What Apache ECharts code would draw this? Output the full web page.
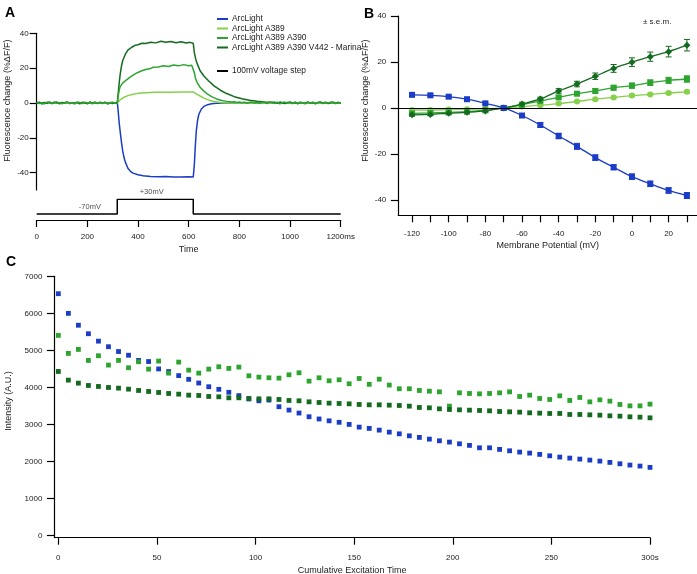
<!DOCTYPE html>
<html><head><meta charset="utf-8">
<script src="https://cdn.jsdelivr.net/npm/echarts@6/dist/echarts.min.js"></script>
<style>html,body{margin:0;padding:0;background:#fff}#c{width:697px;height:574px}</style>
</head><body><div id="c"></div>
<script>
// ---------- Panel A: time traces (ms, %dF/F) ----------
const tArc = [0,318,320,323,326,330,335,340,345,350,360,370,380,400,420,450,480,510,540,570,600,618,622,626,630,635,640,650,660,675,690,710,740,1200];
const vArc = [0,0,-2,-7,-12,-17,-23,-28,-31.5,-34,-37.5,-39.3,-40.3,-41.2,-41.8,-42.2,-42.4,-42.3,-42.6,-42.5,-42.4,-42.5,-36,-25,-16,-10,-6.5,-3.5,-2,-1,-0.5,-0.2,0,0];
const tA389 = [0,318,322,328,335,345,360,380,400,430,470,520,580,618,625,635,645,660,680,700,725,760,1200];
const vA389 = [0,0,0.7,1.6,2.4,3.3,4.2,5.0,5.5,5.9,6.1,6.2,6.3,6.3,5.7,4.8,4.0,2.8,1.6,0.8,0.3,0,0];
const tA390 = [0,10,20,30,40,50,60,70,80,90,100,110,120,130,140,150,160,170,180,190,200,210,220,230,240,250,260,270,280,290,300,310,
  318,322,326,330,340,355,370,390,410,430,445,460,480,500,520,540,560,580,600,612,618,622,627,635,645,660,675,690,710,730,750,770,
  780,790,800,810,820,830,840,850,860,870,880,890,900,910,920,930,940,950,960,970,980,990,1000,1010,1020,1030,1040,1050,1060,1070,1080,1090,1100,1110,1120,1130,1140,1150,1160,1170,1180,1190,1200];
const vA390 = [0.4,-0.3,0.2,-0.6,0.5,0.1,-0.4,0.6,-0.2,0.3,-0.5,0.2,0.5,-0.3,0.1,-0.6,0.4,0.2,-0.4,0.5,-0.1,0.3,-0.5,0.6,-0.2,0.1,-0.4,0.5,-0.3,0.2,0.4,-0.2,
  0,4,7.5,9.5,11.5,13.3,15,16.8,18.2,19.2,19.6,20.5,20.7,21.3,20.9,21.8,21.3,22.0,21.4,21.7,21.3,17.5,14,11.2,9,6.8,5,3.6,2.3,1.4,0.9,0.6,
  0.7,0.3,0.6,0.1,0.5,-0.2,0.4,0.6,0.0,0.3,-0.3,0.5,0.2,-0.4,0.6,0.1,-0.2,0.4,-0.5,0.3,0.5,-0.1,0.2,-0.4,0.6,-0.2,0.3,0.1,-0.5,0.4,-0.1,0.5,-0.3,0.2,0.6,-0.4,0.3,-0.2,0.5,0.1,-0.3,0.4,0.0];
const tMarina = [0,10,20,30,40,50,60,70,80,90,100,110,120,130,140,150,160,170,180,190,200,210,220,230,240,250,260,270,280,290,300,310,
  318,322,326,330,335,340,350,360,375,390,400,415,430,450,470,490,510,530,550,570,590,605,618,622,628,635,645,660,680,700,725,750,780,810,840,870,900,930,
  940,950,960,970,980,990,1000,1010,1020,1030,1040,1050,1060,1070,1080,1090,1100,1110,1120,1130,1140,1150,1160,1170,1180,1190,1200];
const vMarina = [-0.3,0.5,-0.6,0.3,-0.2,0.6,-0.4,0.2,0.5,-0.5,0.3,-0.1,0.6,-0.4,0.2,-0.3,0.5,-0.6,0.4,0.1,-0.5,0.6,-0.2,0.3,-0.4,0.5,-0.1,0.4,-0.6,0.2,-0.3,0.1,
  0,6,12,17,21.5,24.5,28,30.3,32,33.2,33.4,34.3,34.1,34.9,34.5,35.4,34.8,35.3,34.6,35.1,34.4,34.8,34.3,29,25,22,18.5,15.5,12.5,9.8,7.3,5.4,3.6,2.4,1.5,1.0,0.6,0.4,
  0.4,-0.2,0.5,0.1,-0.4,0.3,0.6,-0.3,0.2,-0.5,0.4,0.1,-0.3,0.6,-0.1,0.3,-0.5,0.2,0.5,-0.2,0.4,-0.4,0.1,0.5,-0.3,0.2,0.0];
const tStep = [0,318,318,618,618,1200];
const vStep = [-70,-70,30,30,-70,-70];
const stepLabels = [[210,-70,'-70mV'],[454,30,'+30mV']];
const timeTicks = [0,200,400,600,800,1000,1200];
const fluoTicksA = [-40,-20,0,20,40];

// ---------- Panel B: voltage dependence ----------
const bVolt = [-120,-110,-100,-90,-80,-70,-60,-50,-40,-30,-20,-10,0,10,20,30];
const bArc = [5.7,5.5,4.9,3.8,2.0,0,-3.3,-7.4,-12.2,-16.7,-21.6,-25.8,-29.9,-33,-35.9,-38.1];
const bArcErr = [0.6,0.6,0.6,0.6,0.6,0.2,0.7,1.0,1.2,1.3,1.2,1.1,1.2,1.2,1.2,1.3];
const bA389 = [-0.9,-0.9,-0.7,-0.6,-0.4,0,0.6,1.2,1.9,2.8,3.8,4.6,5.4,5.9,6.5,7.0];
const bA389Err = [0.3,0.3,0.3,0.3,0.3,0.1,0.3,0.3,0.4,0.4,0.4,0.5,0.5,0.5,0.6,0.6];
const bA390 = [-2.4,-2.2,-1.9,-1.6,-1.0,0,1.4,3.0,4.6,6.2,7.4,8.8,9.7,11.0,12.0,12.6];
const bA390Err = [0.5,0.5,0.5,0.5,0.4,0.1,0.5,0.6,0.7,0.8,0.9,1.0,1.1,1.2,1.3,1.4];
const bMarina = [-3.0,-2.8,-2.3,-1.9,-1.3,0,1.7,3.9,7.4,10.4,13.8,17.2,19.9,22.3,24.5,27.3];
const bMarinaErr = [0.6,0.6,0.6,0.6,0.5,0.1,0.6,0.8,1.0,1.2,1.4,1.7,1.9,2.0,2.3,2.5];
const voltLabels = [-120,-100,-80,-60,-40,-20,0,20];
const voltTicks = [-120,-110,-100,-90,-80,-70,-60,-50,-40,-30,-20,-10,0,10,20,30];
const fluoTicksB = [-40,-20,0,20,40];

// ---------- Panel C: photobleaching ----------
const cTime = [0,5.08,10.17,15.25,20.34,25.42,30.51,35.59,40.68,45.76,50.85,55.93,61.02,66.1,71.19,76.27,81.36,86.44,91.53,96.61,101.69,106.78,111.86,116.95,122.03,127.12,132.2,137.29,142.37,147.46,152.54,157.63,162.71,167.8,172.88,177.97,183.05,188.14,193.22,198.31,203.39,208.47,213.56,218.64,223.73,228.81,233.9,238.98,244.07,249.15,254.24,259.32,264.41,269.49,274.58,279.66,284.75,289.83,294.92,300];
const cArc = [6530,6000,5680,5450,5250,5100,4970,4870,4730,4700,4500,4430,4320,4220,4120,4020,3950,3870,3780,3690,3640,3660,3480,3390,3310,3210,3150,3100,3060,
  3003,2930,2895,2849,2795,2749,2695,2652,2606,2561,2526,2480,2437,2372,2372,2329,2291,2256,2229,2194,2156,2121,2094,2067,2040,2013,1978,1941,1906,1879,1843];
const cA390 = [5405,4919,5027,4730,4856,4604,4730,4532,4694,4495,4712,4387,4685,4468,4387,4495,4559,4514,4550,4315,4279,4261,4252,4342,4396,4171,4261,4180,4207,
  4100,4243,4085,4224,4065,3965,3965,3919,3900,3882,3496,3855,3838,3828,3838,3855,3882,3757,3793,3703,3676,3774,3649,3730,3612,3666,3631,3541,3504,3504,3550];
const cMarina = [4432,4198,4117,4054,4027,4000,3982,3955,3919,3892,3865,3838,3820,3793,3784,3757,3748,3721,3721,3703,3694,3694,3676,3649,3640,3613,3595,3577,3568,
  3558,3541,3532,3532,3523,3514,3496,3460,3451,3424,3406,3397,3388,3379,3370,3352,3343,3334,3316,3307,3298,3298,3271,3271,3262,3253,3235,3226,3208,3199,3181];
const intTicks = [0,1000,2000,3000,4000,5000,6000,7000];
const excTicks = [0,50,100,150,200,250,300];

// ---------- styling ----------
const FONT = 'Liberation Sans, Arial, sans-serif';
const TXT = '#222';
const cBlue = '#1a3cc6', cLight = '#86d04a', cMed = '#2ca42e', cDark = '#146a1e';
const zip = (a, b) => a.map((v, i) => [v, b[i]]);
const zip3 = (a, b, c) => a.map((v, i) => [v, b[i], c[i]]);

function errRender(params, api) {
  const x = api.value(0), y = api.value(1), e = api.value(2);
  const p1 = api.coord([x, y + e]), p2 = api.coord([x, y - e]);
  const hw = 3, st = {stroke: api.visual('color'), lineWidth: 1};
  return {type: 'group', children: [
    {type: 'line', shape: {x1: p1[0], y1: p1[1], x2: p2[0], y2: p2[1]}, style: st},
    {type: 'line', shape: {x1: p1[0]-hw, y1: p1[1], x2: p1[0]+hw, y2: p1[1]}, style: st},
    {type: 'line', shape: {x1: p2[0]-hw, y1: p2[1], x2: p2[0]+hw, y2: p2[1]}, style: st}
  ]};
}

const axLine = {show: true, onZero: false, lineStyle: {color: '#000', width: 1.2}};
const plain = v => String(v);
const lbl = (extra) => Object.assign({color: TXT, fontFamily: FONT, fontSize: 8, formatter: plain}, extra);
const nameStyle = (extra) => Object.assign({color: TXT, fontFamily: FONT, fontSize: 9}, extra);

const chart = echarts.init(document.getElementById('c'), null, {renderer: 'canvas'});
const option = {
  animation: false,
  backgroundColor: '#fff',
  textStyle: {fontFamily: FONT},
  title: [
    {text: 'A', left: 0, top: 1, textStyle: {fontSize: 14, fontWeight: 'bold', color: '#000', fontFamily: FONT}},
    {text: 'B', left: 359, top: 2, textStyle: {fontSize: 14, fontWeight: 'bold', color: '#000', fontFamily: FONT}},
    {text: 'C', left: 1, top: 250, textStyle: {fontSize: 14, fontWeight: 'bold', color: '#000', fontFamily: FONT}}
  ],
  graphic: [
    {type: 'text', left: 643, top: 18, style: {text: '± s.e.m.', fontSize: 8, fontFamily: FONT, fill: TXT}}
  ],
  legend: [
    {orient: 'vertical', left: 212, top: 10, itemWidth: 11, itemHeight: 2, itemGap: 1.5, icon: 'rect',
     textStyle: {fontSize: 8.4, color: TXT, fontFamily: FONT, padding: [0, 0, 0, -1]},
     data: ['ArcLight', 'ArcLight A389', 'ArcLight A389 A390', 'ArcLight A389 A390 V442 - Marina'], selectedMode: false},
    {orient: 'vertical', left: 212, top: 62, itemWidth: 11, itemHeight: 2, icon: 'rect',
     textStyle: {fontSize: 8.4, color: TXT, fontFamily: FONT, padding: [0, 0, 0, -1]},
     data: ['100mV voltage step'], selectedMode: false}
  ],
  grid: [
    {left: 36.7, top: 33.3, width: 304, height: 156.7, outerBoundsMode: 'none'},
    {left: 36.7, top: 199.3, width: 304, height: 20.7, outerBoundsMode: 'none'},
    {left: 398.3, top: 16, width: 298.7, height: 199.3, outerBoundsMode: 'none'},
    {left: 54.4, top: 276.3, width: 595.6, height: 261.4, outerBoundsMode: 'none'}
  ],
  xAxis: [
    {gridIndex: 0, type: 'value', min: 0, max: 1200, show: false},
    {gridIndex: 1, type: 'value', min: 0, max: 1200, axisLine: axLine,
     axisTick: {show: true, length: 7, lineStyle: {color: '#000', width: 1.2}, customValues: timeTicks},
     axisLabel: lbl({margin: 13, customValues: timeTicks, formatter: v => v === 1200 ? '1200ms' : String(v)}),
     splitLine: {show: false},
     name: 'Time', nameLocation: 'middle', nameGap: 25, nameTextStyle: nameStyle()},
    {gridIndex: 2, type: 'value', position: 'bottom', min: -127.5, max: 35.5, axisLine: axLine,
     axisTick: {show: true, length: 7, lineStyle: {color: '#000', width: 1.2}, customValues: voltTicks},
     axisLabel: lbl({margin: 14, customValues: voltLabels}),
     splitLine: {show: false},
     name: 'Membrane Potential (mV)', nameLocation: 'middle', nameGap: 26, nameTextStyle: nameStyle()},
    {gridIndex: 3, type: 'value', min: -2, max: 300, axisLine: axLine,
     axisTick: {show: true, length: 7, lineStyle: {color: '#000', width: 1.2}, customValues: excTicks},
     axisLabel: lbl({margin: 16, customValues: excTicks, formatter: v => v === 300 ? '300s' : String(v)}),
     splitLine: {show: false},
     name: 'Cumulative Excitation Time', nameLocation: 'middle', nameGap: 28, nameTextStyle: nameStyle()}
  ],
  yAxis: [
    {gridIndex: 0, type: 'value', min: -50, max: 40, axisLine: axLine,
     axisTick: {show: true, length: 7, lineStyle: {color: '#000', width: 1.2}, customValues: fluoTicksA},
     axisLabel: lbl({margin: 8, customValues: fluoTicksA}),
     splitLine: {show: false},
     name: 'Fluorescence change (%ΔF/F)', nameLocation: 'middle', nameGap: 25,
     nameTextStyle: nameStyle({padding: [0, 0, 0, 22]})},
    {gridIndex: 1, type: 'value', min: -110, max: 30, show: false},
    {gridIndex: 2, type: 'value', min: -46.7, max: 40, axisLine: axLine,
     axisTick: {show: true, length: 7.5, lineStyle: {color: '#000', width: 1.2}, customValues: fluoTicksB},
     axisLabel: lbl({margin: 12, customValues: fluoTicksB}),
     splitLine: {show: false},
     name: 'Fluorescence change (%ΔF/F)', nameLocation: 'middle', nameGap: 28,
     nameTextStyle: nameStyle({padding: [0, 0, 0, 30]})},
    {gridIndex: 3, type: 'value', min: -54, max: 7000, axisLine: axLine,
     axisTick: {show: true, length: 7.5, lineStyle: {color: '#000', width: 1.2}, customValues: intTicks},
     axisLabel: lbl({margin: 12, customValues: intTicks}),
     splitLine: {show: false},
     name: 'Intensity (A.U.)', nameLocation: 'middle', nameGap: 41,
     nameTextStyle: nameStyle({padding: [0, 0, 0, 12]})}
  ],
  series: [
    // Panel A
    {name: 'ArcLight', type: 'line', xAxisIndex: 0, yAxisIndex: 0, data: zip(tArc, vArc), showSymbol: false, symbol: 'none',
     lineStyle: {color: cBlue, width: 1.5}, itemStyle: {color: cBlue}},
    {name: 'ArcLight A389', type: 'line', xAxisIndex: 0, yAxisIndex: 0, data: zip(tA389, vA389), showSymbol: false, symbol: 'none',
     lineStyle: {color: cLight, width: 1.5}, itemStyle: {color: cLight}},
    {name: 'ArcLight A389 A390 V442 - Marina', type: 'line', xAxisIndex: 0, yAxisIndex: 0, data: zip(tMarina, vMarina), showSymbol: false, symbol: 'none',
     lineStyle: {color: cDark, width: 1.5}, itemStyle: {color: cDark}},
    {name: 'ArcLight A389 A390', type: 'line', xAxisIndex: 0, yAxisIndex: 0, data: zip(tA390, vA390), showSymbol: false, symbol: 'none',
     lineStyle: {color: cMed, width: 1.5}, itemStyle: {color: cMed}},
    {name: '100mV voltage step', type: 'line', xAxisIndex: 1, yAxisIndex: 1, data: zip(tStep, vStep), showSymbol: false, symbol: 'none',
     lineStyle: {color: '#000', width: 1.5}, itemStyle: {color: '#000'}},
    {name: 'stepLabels', type: 'scatter', xAxisIndex: 1, yAxisIndex: 1, data: stepLabels, symbolSize: 0,
     label: {show: true, position: 'top', distance: 3, formatter: p => p.value[2], fontSize: 7.5, color: TXT, fontFamily: FONT}},
    // Panel B
    {name: 'B A389 err', type: 'custom', xAxisIndex: 2, yAxisIndex: 2, data: zip3(bVolt, bA389, bA389Err), renderItem: errRender, itemStyle: {color: cLight}, z: 2},
    {name: 'B A389', type: 'line', xAxisIndex: 2, yAxisIndex: 2, data: zip(bVolt, bA389), smooth: 0.3, symbol: 'circle', symbolSize: 6,
     lineStyle: {color: cLight, width: 1.3}, itemStyle: {color: cLight}, z: 3},
    {name: 'B A390 err', type: 'custom', xAxisIndex: 2, yAxisIndex: 2, data: zip3(bVolt, bA390, bA390Err), renderItem: errRender, itemStyle: {color: cMed}, z: 2},
    {name: 'B A390', type: 'line', xAxisIndex: 2, yAxisIndex: 2, data: zip(bVolt, bA390), smooth: 0.3, symbol: 'rect', symbolSize: 6,
     lineStyle: {color: cMed, width: 1.3}, itemStyle: {color: cMed}, z: 3},
    {name: 'B Marina err', type: 'custom', xAxisIndex: 2, yAxisIndex: 2, data: zip3(bVolt, bMarina, bMarinaErr), renderItem: errRender, itemStyle: {color: cDark}, z: 2},
    {name: 'B Marina', type: 'line', xAxisIndex: 2, yAxisIndex: 2, data: zip(bVolt, bMarina), smooth: 0.3, symbol: 'diamond', symbolSize: 7,
     lineStyle: {color: cDark, width: 1.3}, itemStyle: {color: cDark}, z: 3},
    {name: 'B Arc err', type: 'custom', xAxisIndex: 2, yAxisIndex: 2, data: zip3(bVolt, bArc, bArcErr), renderItem: errRender, itemStyle: {color: cBlue}, z: 2},
    {name: 'B Arc', type: 'line', xAxisIndex: 2, yAxisIndex: 2, data: zip(bVolt, bArc), smooth: 0.3, symbol: 'rect', symbolSize: 6,
     lineStyle: {color: cBlue, width: 1.3}, itemStyle: {color: cBlue}, z: 3,
     markLine: {silent: true, symbol: 'none', label: {show: false}, lineStyle: {color: '#000', width: 1.2, type: 'solid'}, data: [{yAxis: 0}]}},
    // Panel C
    {name: 'C Arc', type: 'scatter', xAxisIndex: 3, yAxisIndex: 3, data: zip(cTime, cArc), symbol: 'rect', symbolSize: 4.8, itemStyle: {color: cBlue, opacity: 1}},
    {name: 'C A390', type: 'scatter', xAxisIndex: 3, yAxisIndex: 3, data: zip(cTime, cA390), symbol: 'rect', symbolSize: 4.8, itemStyle: {color: cMed, opacity: 1}},
    {name: 'C Marina', type: 'scatter', xAxisIndex: 3, yAxisIndex: 3, data: zip(cTime, cMarina), symbol: 'rect', symbolSize: 4.8, itemStyle: {color: cDark, opacity: 1}}
  ]
};
chart.setOption(option);
</script>
</body></html>
